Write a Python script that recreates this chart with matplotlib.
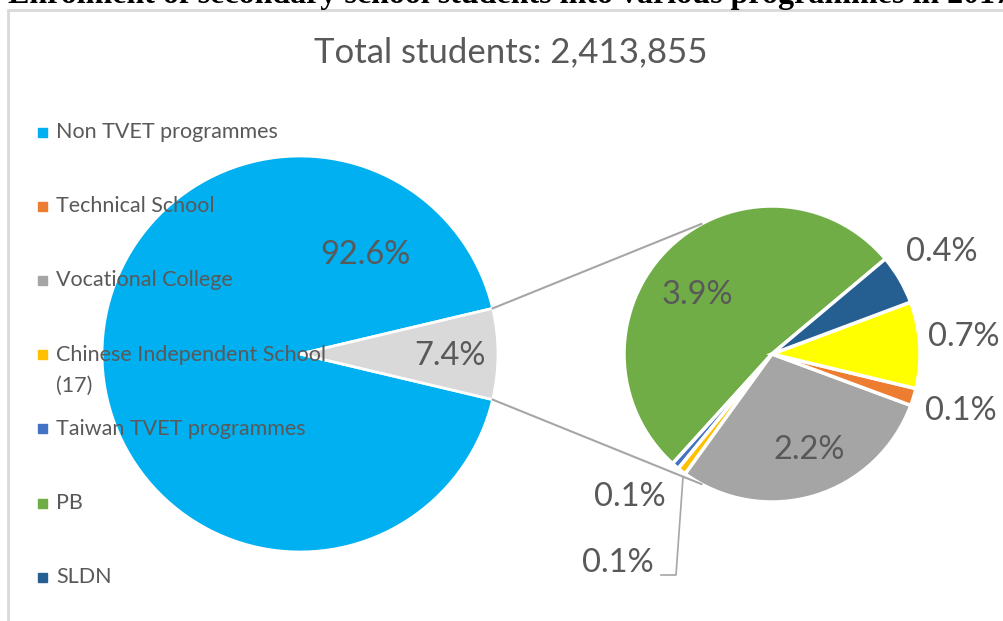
import numpy as np
import matplotlib
matplotlib.use("Agg")
from matplotlib import pyplot as plt
from matplotlib.patches import Rectangle

# data
total_students = 2413855
main_values = [92.6, 7.4]            # Non TVET, all TVET programmes
main_colors = ["#00B0F0", "#D9D9D9"]

# second pie, counter-clockwise from the PB slice
sub_labels = ["PB", "Taiwan TVET programmes", "Chinese Independent School (17)",
              "Vocational College", "Technical School", "Other", "SLDN"]
sub_values = [3.86, 0.06, 0.07, 2.17, 0.14, 0.70, 0.40]
sub_colors = ["#70AD47", "#4472C4", "#FFC000", "#A5A5A5", "#ED7D31", "#FFFF00", "#255E91"]

legend_labels = ["Non TVET programmes", "Technical School", "Vocational College",
                 "Chinese Independent School\n(17)", "Taiwan TVET programmes", "PB", "SLDN"]
legend_colors = ["#00B0F0", "#ED7D31", "#A5A5A5", "#FFC000", "#4472C4", "#70AD47", "#255E91"]

W, H = 1004, 621
TXT = "#595959"
FONT = "Lato"


def py(y):
    # pixel row (from top) -> data y
    return H - np.asarray(y, dtype=float)


fig = plt.figure(figsize=(W / 100, H / 100), dpi=100)
ax = fig.add_axes([0, 0, 1, 1])

# chart frame, cut by the picture edges
ax.add_patch(Rectangle((8.5, -100), 1200, py(9.7) + 100, fill=False,
                       edgecolor="#D9D9D9", linewidth=2, zorder=0))

# main pie, TVET slice centred on the right
main_c = (300, float(py(354)))
main_r = 198
half = main_values[1] / sum(main_values) * 180
ax.pie(main_values, colors=main_colors, center=main_c, radius=main_r,
       startangle=half, wedgeprops=dict(edgecolor="white", linewidth=2))

# second pie
sub_c = (772, float(py(354)))
sub_r = 148
ax.pie(sub_values, colors=sub_colors, center=sub_c, radius=sub_r,
       startangle=40, counterclock=True,
       wedgeprops=dict(edgecolor="white", linewidth=2.5))

# connector lines
for s in (1, -1):
    a0 = np.radians(s * half)
    a1 = np.radians(s * 118.5)
    ax.plot([main_c[0] + main_r * np.cos(a0), sub_c[0] + sub_r * np.cos(a1)],
            [main_c[1] + main_r * np.sin(a0), sub_c[1] + sub_r * np.sin(a1)],
            color="#A6A6A6", linewidth=1.5, zorder=2)

# percentage labels
lab_kw = dict(fontsize=23.5, color=TXT, family=FONT, ha="center", va="center", zorder=5)
main_pos = [(365, 255), (450, 356)]
for v, (x, y) in zip(main_values, main_pos):
    ax.text(x, py(y), f"{v:.1f}%", **lab_kw)

sub_pos = [(697, 295), (630, 497), (618, 563), (809, 450), (961, 411), (964, 337), (942, 252)]
for v, (x, y) in zip(sub_values, sub_pos):
    ax.text(x, py(y), f"{v:.1f}%", **lab_kw)

# leader line for the Chinese Independent School label
ax.plot([683, 676, 661], py([477, 575, 575]), color="#A6A6A6", linewidth=1.2, zorder=2)

# legend
for i, (lab, col) in enumerate(zip(legend_labels, legend_colors)):
    y = 132 + 74.2 * i
    ax.add_patch(Rectangle((38, py(y) - 4.5), 9, 9, color=col, zorder=5))
    for j, line in enumerate(lab.split("\n")):
        ax.text(56, py(y + 31 * j), line, fontsize=15.5, color=TXT, family=FONT,
                ha="left", va="center", zorder=5)

# headings
ax.text(511, py(62), f"Total students: {total_students:,}", fontsize=25, color=TXT,
        family=FONT, ha="center", va="baseline")
ax.text(8, py(3), "Enrolment of secondary school students into various programmes in 2017",
        fontsize=23, family="Liberation Serif", weight="bold", color="black",
        ha="left", va="baseline")

ax.set_xlim(0, W)
ax.set_ylim(0, H)
ax.set_aspect("equal")
ax.axis("off")

fig.savefig("out.png", dpi=100)
